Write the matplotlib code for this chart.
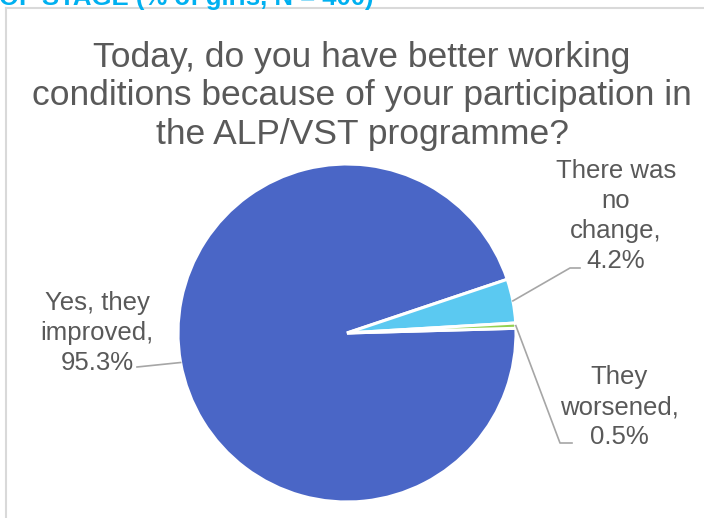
import numpy as np
import matplotlib.pyplot as plt
from matplotlib.lines import Line2D

plt.rcParams['font.family'] = ['Liberation Sans', 'DejaVu Sans']

# Answers and shares (%)
labels = ['Yes, they\nimproved,', 'There was\nno\nchange,', 'They\nworsened,']
shares = [95.3, 4.2, 0.5]
colors = ['#4A66C6', '#5BC9F1', '#92D050']

title = ('Today, do you have better working\n'
         'conditions because of your participation in\n'
         'the ALP/VST programme?')
heading = 'OF STAGE (% of girls, N = 400)'

W, H = 704, 518
fig = plt.figure(figsize=(W / 100, H / 100), dpi=100)
ax = fig.add_axes([0, 0, 1, 1])

# chart frame (only the top and left edges are in view)
fig.add_artist(Line2D([5.5 / W, 5.5 / W], [0, 1 - 8 / H], color='#D9D9D9', lw=1.5))
fig.add_artist(Line2D([5.5 / W, 1], [1 - 8 / H, 1 - 8 / H], color='#D9D9D9', lw=1.5))

# heading of the page above the chart, cut at the top edge
fig.text(-0.002, 1 - 5 / H, heading, fontsize=18.5, fontweight='bold',
         color='#00B0F0', ha='left', va='baseline')

ax.text(362, H - 96, title, ha='center', va='center', fontsize=25.5,
        color='#595959', linespacing=1.22)

cx, cy, r = 347, H - 333, 169
start = 1.6
wedges, _ = ax.pie(shares, colors=colors, startangle=start, counterclock=False,
                   center=(cx, cy), radius=r, frame=True,
                   wedgeprops=dict(edgecolor='white', linewidth=2.2))
ax.set_xlim(0, W)
ax.set_ylim(0, H)
ax.set_aspect('equal')
ax.axis('off')

# label positions (text centre) and elbow of the leader line
text_pos = [(97, H - 333), (616, H - 216), (619, H - 407)]
elbows = [None, (570, H - 268), (560, H - 443)]
ends = [(137, H - 367), (580, H - 268), (572, H - 443)]

for w, lab, val, tp, el, en in zip(wedges, labels, shares, text_pos, elbows, ends):
    mid = np.deg2rad((w.theta1 + w.theta2) / 2)
    px, py = cx + r * np.cos(mid), cy + r * np.sin(mid)
    ax.text(tp[0], tp[1], f'{lab}\n{val:.1f}%', ha='center', va='center',
            fontsize=18.5, color='#595959', linespacing=1.3)
    if el is None:
        xs, ys = [px, en[0]], [py, en[1]]
    else:
        xs, ys = [px, el[0], en[0]], [py, el[1], en[1]]
    ax.plot(xs, ys, color='#A6A6A6', lw=1.2)

fig.savefig('out.png', dpi=100)
